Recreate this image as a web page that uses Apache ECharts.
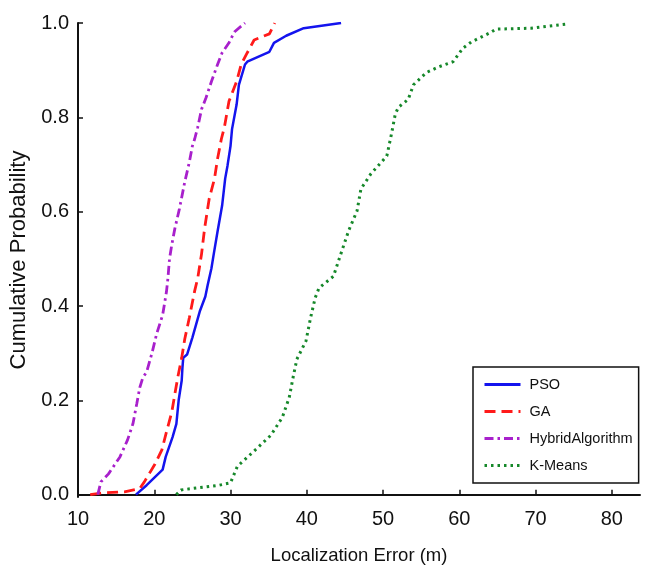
<!DOCTYPE html>
<html>
<head>
<meta charset="utf-8">
<script src="https://cdn.jsdelivr.net/npm/echarts@6/dist/echarts.min.js"></script>
<style>
html,body{margin:0;padding:0;background:#fff;}
#chart{width:646px;height:570px;}
</style>
</head>
<body>
<div id="chart"></div>
<script>
var seriesNames = ['PSO', 'GA', 'HybridAlgorithm', 'K-Means'];
var xTicks = [10, 20, 30, 40, 50, 60, 70, 80];
var yTicks = [0, 0.2, 0.4, 0.6, 0.8, 1.0];

var psoX = [17.6,19.0,21.1,21.5,22.4,22.9,23.2,23.6,23.7,23.8,24.3,25.0,26.0,26.7,27.0,27.5,27.8,28.3,28.9,29.3,29.6,30.0,30.2,30.8,31.1,31.9,32.2,35.1,35.7,37.3,39.6,44.5];
var psoP = [0,0.02,0.053,0.08,0.122,0.15,0.2,0.242,0.27,0.29,0.297,0.333,0.39,0.42,0.444,0.48,0.51,0.558,0.613,0.67,0.697,0.739,0.775,0.827,0.869,0.912,0.918,0.939,0.958,0.973,0.989,1.0];

var gaX = [11.6,13.5,16.1,18.1,18.7,20.1,21.0,21.6,22.3,22.7,23.1,23.6,24.0,24.6,25.3,25.7,26.2,26.6,27.2,27.9,28.3,28.8,29.2,29.8,30.8,31.4,32.2,33.1,35.1,35.8];
var gaP = [0,0.004,0.006,0.013,0.027,0.065,0.095,0.133,0.175,0.213,0.25,0.29,0.33,0.375,0.432,0.459,0.51,0.564,0.627,0.67,0.712,0.754,0.779,0.834,0.876,0.912,0.937,0.964,0.977,1.0];

var hybX = [12.6,13.0,14.0,15.5,16.5,17.2,17.7,18.1,18.5,19.0,19.7,20.3,21.1,21.6,21.8,22.0,22.3,22.7,23.3,24.0,24.6,25.0,25.3,25.7,26.2,26.8,27.5,28.3,28.9,29.8,30.5,31.9];
var hybP = [0,0.027,0.044,0.08,0.116,0.15,0.192,0.227,0.248,0.26,0.3,0.34,0.381,0.43,0.46,0.5,0.53,0.564,0.606,0.663,0.705,0.739,0.754,0.779,0.817,0.842,0.876,0.912,0.937,0.958,0.981,1.0];

var kmX = [22.9,23.5,26.0,28.5,30.0,30.9,33.4,35.3,36.8,37.7,38.2,38.7,39.9,40.5,41.1,41.6,43.5,44.5,45.5,46.6,47.1,48.4,50.5,51.1,51.6,52.0,53.3,54.0,55.7,57.3,59.2,60.5,61.6,64.0,64.8,69.4,74.1];
var kmP = [0,0.01,0.015,0.02,0.025,0.06,0.097,0.126,0.164,0.206,0.248,0.287,0.326,0.375,0.417,0.438,0.463,0.512,0.56,0.602,0.648,0.68,0.718,0.764,0.806,0.821,0.838,0.869,0.895,0.907,0.918,0.947,0.96,0.979,0.987,0.989,0.998];

function pairs(xs, ps) { return xs.map(function (x, i) { return [x, ps[i]]; }); }

var sans = "'Liberation Sans', Arial, sans-serif";
var colors = ['#1414ee', '#ff1a1a', '#a820cc', '#16882a'];

var chart = echarts.init(document.getElementById('chart'), null, {renderer: 'canvas'});
chart.setOption({
  animation: false,
  backgroundColor: '#ffffff',
  grid: {left: 78, right: 6, top: 23, bottom: 69, containLabel: false},
  xAxis: {
    type: 'value', min: 10, max: 83.7,
    name: 'Localization Error (m)', nameLocation: 'middle', nameGap: 49,
    nameTextStyle: {fontFamily: sans, fontSize: 18.5, color: '#111'},
    axisLine: {show: true, lineStyle: {color: '#111', width: 2}},
    axisTick: {show: true, inside: true, length: 5, lineStyle: {color: '#111', width: 1.5}, customValues: xTicks},
    axisLabel: {fontFamily: sans, fontSize: 20, color: '#111', margin: 12, customValues: xTicks},
    splitLine: {show: false}
  },
  yAxis: {
    type: 'value', min: -0.005, max: 1.0,
    name: 'Cumulative Probability', nameLocation: 'middle', nameGap: 40,
    nameTextStyle: {fontFamily: sans, fontSize: 22, color: '#111'},
    axisLine: {show: true, lineStyle: {color: '#111', width: 2}},
    axisTick: {show: true, inside: true, length: 5, lineStyle: {color: '#111', width: 1.5}, customValues: yTicks},
    axisLabel: {fontFamily: sans, fontSize: 20, color: '#111', margin: 9, customValues: yTicks,
      formatter: function (v) { return v.toFixed(1); }},
    splitLine: {show: false}
  },
  legend: {
    orient: 'vertical', left: 473, top: 367,
    itemWidth: 36, itemHeight: 14, itemGap: 12,
    padding: [10, 6, 10, 10],
    borderColor: '#111', borderWidth: 1.5,
    backgroundColor: '#fff',
    itemStyle: {opacity: 0},
    lineStyle: {width: 3},
    textStyle: {fontFamily: sans, fontSize: 14.5, color: '#111', padding: [0, 0, 0, 4]},
    data: seriesNames
  },
  series: [
    {name: seriesNames[0], type: 'line', symbol: 'none', data: pairs(psoX, psoP),
      lineStyle: {color: colors[0], width: 2.5, type: 'solid'}, itemStyle: {color: colors[0]}},
    {name: seriesNames[1], type: 'line', symbol: 'none', data: pairs(gaX, gaP),
      lineStyle: {color: colors[1], width: 2.8, type: [11, 6]}, itemStyle: {color: colors[1]}},
    {name: seriesNames[2], type: 'line', symbol: 'none', data: pairs(hybX, hybP),
      lineStyle: {color: colors[2], width: 2.8, type: [9, 4, 2.5, 4]}, itemStyle: {color: colors[2]}},
    {name: seriesNames[3], type: 'line', symbol: 'none', data: pairs(kmX, kmP),
      lineStyle: {color: colors[3], width: 3, type: [2.5, 4]}, itemStyle: {color: colors[3]}}
  ]
});
</script>
</body>
</html>
